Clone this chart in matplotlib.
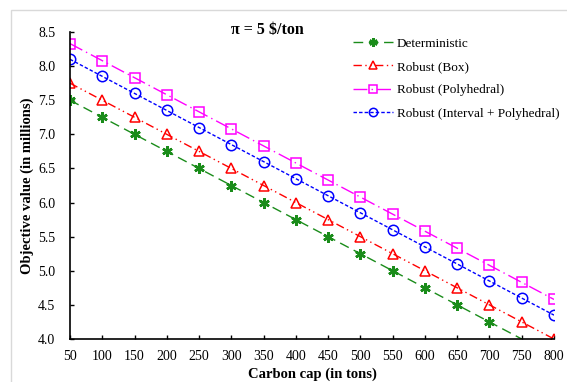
import matplotlib
matplotlib.use("Agg")
import matplotlib.pyplot as plt
from matplotlib.patches import Rectangle

carbon_cap = [50, 100, 150, 200, 250, 300, 350, 400, 450, 500, 550, 600, 650, 700, 750, 800]
deterministic = [7.50, 7.25, 7.00, 6.75, 6.50, 6.25, 6.00, 5.75, 5.50, 5.25, 5.00, 4.75, 4.50, 4.25, 4.00, 3.75]
robust_box = [7.75, 7.50, 7.25, 7.00, 6.75, 6.50, 6.25, 6.00, 5.75, 5.50, 5.25, 5.00, 4.75, 4.50, 4.25, 4.00]
robust_poly = [8.33, 8.08, 7.83, 7.58, 7.33, 7.08, 6.83, 6.58, 6.33, 6.08, 5.83, 5.58, 5.33, 5.08, 4.83, 4.58]
robust_int_poly = [8.10, 7.85, 7.60, 7.35, 7.10, 6.85, 6.60, 6.35, 6.10, 5.85, 5.60, 5.35, 5.10, 4.85, 4.60, 4.35]
x_ticks = [50, 100, 150, 200, 250, 300, 350, 400, 450, 500, 550, 600, 650, 700, 750, 800]
y_ticks = [4.0, 4.5, 5.0, 5.5, 6.0, 6.5, 7.0, 7.5, 8.0, 8.5]

plt.rcParams['font.family'] = ['Liberation Serif', 'DejaVu Serif']

fig = plt.figure(figsize=(5.67, 3.82), dpi=100)
fig.patches.append(Rectangle((11/567, -0.01), 1.0, 1 - 10/382 + 0.01,
                             transform=fig.transFigure, fill=False,
                             edgecolor='#d9d9d9', linewidth=1.0))
ax = fig.add_axes([70/567, 1 - 339/382, (554 - 70)/567, (339 - 32)/382])

ms = 7.5
det_marks = [i for i, v in enumerate(deterministic) if v > 4.0]
ax.plot(carbon_cap, deterministic, color='#1a8c1a', linestyle=(0, (7, 4)), lw=1.0,
        marker=(6, 2, 0), markersize=7.5, markeredgewidth=1.8, markevery=det_marks,
        label='Deterministic')
ax.plot(carbon_cap, robust_box, color='#ff0000', linestyle=(0, (6, 2.5, 1, 2.5, 1, 2.5)), lw=1.0,
        marker='^', markersize=ms, markerfacecolor='none', markeredgewidth=1.1,
        label='Robust (Box)')
ax.plot(carbon_cap, robust_poly, color='#ff00ff', linestyle=(0, (10, 3, 1, 3)), lw=1.0,
        marker='s', markersize=ms, markerfacecolor='none', markeredgewidth=1.1,
        label='Robust (Polyhedral)')
ax.plot(carbon_cap, robust_int_poly, color='#0000ff', linestyle=(0, (2.5, 1.5)), lw=1.0,
        marker='o', markersize=ms, markerfacecolor='none', markeredgewidth=1.1,
        label='Robust (Interval + Polyhedral)')

ax.set_xlim(50, 800)
ax.set_ylim(4.0, 8.5)
ax.set_xticks(x_ticks)
ax.set_yticks(y_ticks)
ax.set_yticklabels([f'{v:.1f}' for v in y_ticks])
ax.tick_params(direction='in', length=3, width=1, labelsize=10)
ax.tick_params(axis='x', pad=8)
ax.tick_params(axis='y', pad=10.5)
ax.spines['top'].set_visible(False)
ax.spines['right'].set_visible(False)
ax.spines['left'].set_linewidth(1.2)
ax.spines['bottom'].set_linewidth(1.2)

ax.set_xlabel('Carbon cap (in tons)', fontsize=10.5, fontweight='bold', labelpad=3)
ax.set_ylabel('Objective value (in millions)', fontsize=10.5, fontweight='bold', labelpad=3)

fig.text(267/567, 1 - 30/382, 'π = 5 $/ton', fontsize=11.5, fontweight='bold',
         ha='center', va='center')

leg = ax.legend(loc='upper left', bbox_to_anchor=(348/567, 1 - 32/382),
                bbox_transform=fig.transFigure, frameon=False, fontsize=9.5,
                handlelength=3.0, handletextpad=0.3, labelspacing=0.85, borderaxespad=0,
                markerscale=0.8)

fig.savefig('out.png', dpi=100)
